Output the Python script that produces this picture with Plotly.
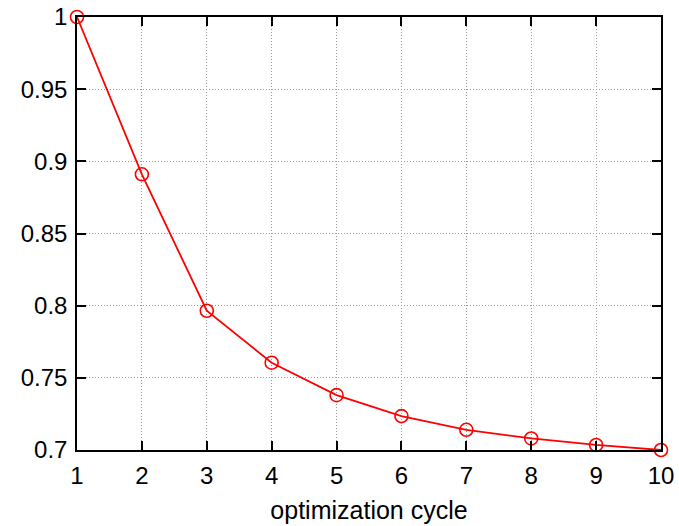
import plotly.graph_objects as go

# optimization cycle vs. normalized objective
cycles = [1, 2, 3, 4, 5, 6, 7, 8, 9, 10]
values = [1.0, 0.891, 0.7965, 0.7605, 0.738, 0.7235, 0.714, 0.708, 0.7035, 0.700]

x_ticks = [1, 2, 3, 4, 5, 6, 7, 8, 9, 10]
y_ticks = [0.7, 0.75, 0.8, 0.85, 0.9, 0.95, 1.0]
y_labels = ["0.7", "0.75", "0.8", "0.85", "0.9", "0.95", "1"]

FONT = "Liberation Sans, Arial, sans-serif"

fig = go.Figure()
fig.add_trace(go.Scatter(
    x=cycles, y=values, mode="lines+markers",
    line=dict(color="#ff0000", width=1.8),
    marker=dict(symbol="circle-open", size=13, color="#ff0000",
                line=dict(width=1.6, color="#ff0000")),
    cliponaxis=False,
    showlegend=False,
))

axis_common = dict(
    showline=True, linecolor="black", linewidth=1.5, mirror="ticks",
    ticks="inside", ticklen=9, tickwidth=1.5, tickcolor="black",
    showgrid=True, gridcolor="#999999", gridwidth=1, griddash="1px,2px",
    zeroline=False, automargin=False,
    tickfont=dict(family=FONT, size=24, color="black"),
)

fig.update_xaxes(range=[1, 10], tickvals=x_ticks, ticktext=[str(t) for t in x_ticks],
                 ticklabelstandoff=3,
                 title=dict(text="optimization cycle", standoff=14,
                            font=dict(family=FONT, size=25, color="black")),
                 **axis_common)
fig.update_yaxes(range=[0.7, 1.0], tickvals=y_ticks, ticktext=y_labels,
                 ticklabelstandoff=3, **axis_common)

fig.update_layout(
    width=679, height=526,
    margin=dict(l=77, r=18, t=17, b=76),
    plot_bgcolor="white", paper_bgcolor="white",
)

fig.write_html("out.html")
